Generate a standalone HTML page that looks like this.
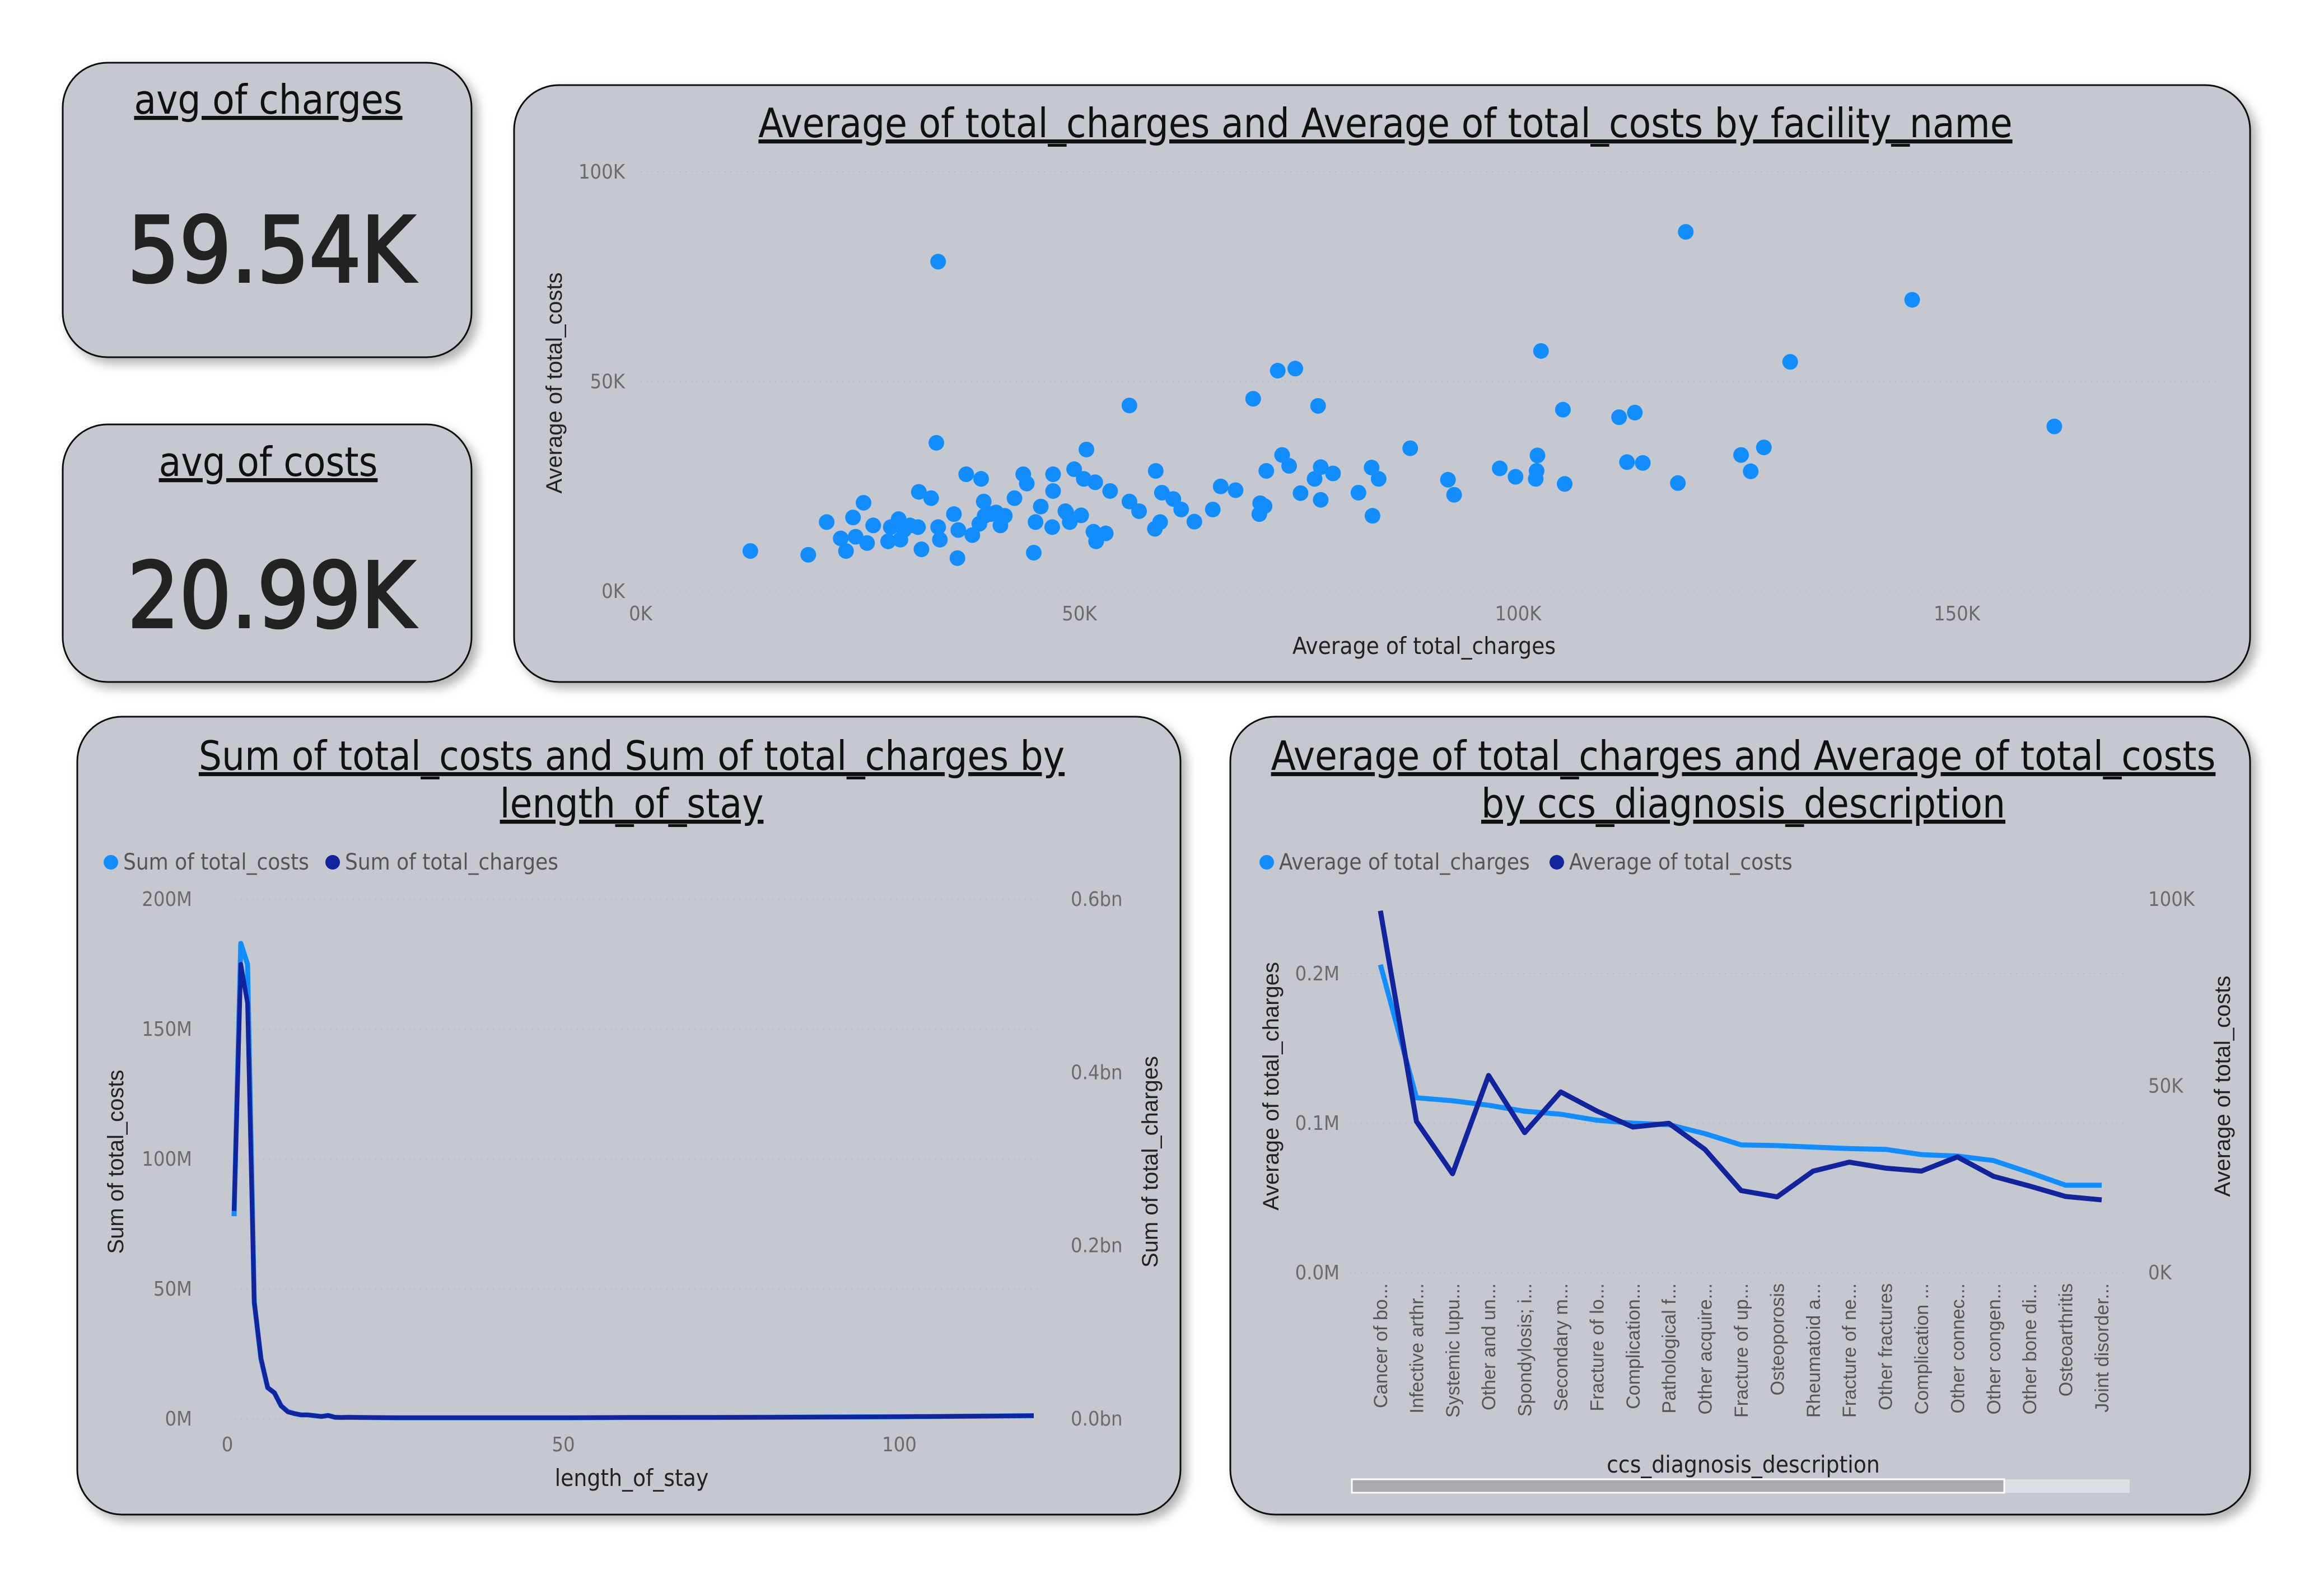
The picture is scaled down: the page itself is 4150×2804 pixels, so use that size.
<!DOCTYPE html>
<html><head><meta charset="utf-8">
<style>
html,body{margin:0;padding:0;background:#fff;}
svg{display:block;}
.t{font-family:"Liberation Sans Narrow","DejaVu Sans Condensed","Liberation Sans",sans-serif;}
.s{font-family:"Liberation Sans","DejaVu Sans",sans-serif;}
</style></head>
<body>
<svg id="dash" width="4150" height="2804" viewBox="0 0 4150 2804" xmlns="http://www.w3.org/2000/svg">
<defs>
<filter id="sh" x="-5%" y="-5%" width="115%" height="120%"><feDropShadow dx="10" dy="10" stdDeviation="9" flood-color="#000" flood-opacity="0.3"/></filter>
</defs>
<!-- cards -->
<rect x="112" y="112" width="730" height="526" rx="80" fill="#c5c9cf" stroke="#111" stroke-width="3" filter="url(#sh)"/>
<rect x="112" y="758" width="730" height="460" rx="80" fill="#c5c9cf" stroke="#111" stroke-width="3" filter="url(#sh)"/>
<rect x="918" y="152" width="3100" height="1066" rx="80" fill="#c5c9cf" stroke="#111" stroke-width="3" filter="url(#sh)"/>
<rect x="138" y="1280" width="1970" height="1425" rx="80" fill="#c5c9cf" stroke="#111" stroke-width="3" filter="url(#sh)"/>
<rect x="2197" y="1280" width="1821" height="1425" rx="80" fill="#c5c9cf" stroke="#111" stroke-width="3" filter="url(#sh)"/>

<!-- KPIs -->
<text class="t" x="479" y="203" font-size="72" text-anchor="middle" text-decoration="underline" fill="#111">avg of charges</text>
<text class="t" x="484" y="503" font-size="162" text-anchor="middle" fill="#222" stroke="#222" stroke-width="4">59.54K</text>
<text class="t" x="479" y="850" font-size="72" text-anchor="middle" text-decoration="underline" fill="#111">avg of costs</text>
<text class="t" x="484" y="1120" font-size="162" text-anchor="middle" fill="#222" stroke="#222" stroke-width="4">20.99K</text>

<!-- titles -->
<text class="t" x="2474" y="245" font-size="72" text-anchor="middle" text-decoration="underline" fill="#111">Average of total_charges and Average of total_costs by facility_name</text>
<text class="t" x="1128" y="1375" font-size="72" text-anchor="middle" text-decoration="underline" fill="#111">Sum of total_costs and Sum of total_charges by</text>
<text class="t" x="1128" y="1460" font-size="72" text-anchor="middle" text-decoration="underline" fill="#111">length_of_stay</text>
<text class="t" x="3113" y="1375" font-size="72" text-anchor="middle" text-decoration="underline" fill="#111">Average of total_charges and Average of total_costs</text>
<text class="t" x="3113" y="1460" font-size="72" text-anchor="middle" text-decoration="underline" fill="#111">by ccs_diagnosis_description</text>

<g id="scatter"></g>
<g id="los"></g>
<g id="diag"></g>
</svg>
<script>
// ---------- Scatter data ----------
const scatterCharges = [12.5,19.1,33.9,33.7,119.1,144.9,161.1,102.6,131,72.6,74.6,69.8,77.2,55.7,105.1,111.5,113.3,87.7,102.2,102.1,102,125.4,128,126.5,112.4,114.2,118.2,105.3,97.9,99.7,92,92.7,83.3,84.1,83.4,81.8,73.1,71.3,73.9,77.5,78.9,76.8,75.2,77.5,70.6,70.5,71.1,67.8,66.1,65.2,63.1,61.6,60.7,59.4,58.7,59.2,58.6,56.8,55.7,53.5,53,51.9,51.6,51.8,50.8,50.5,49.4,50.2,48.9,48.4,47,47,46.9,45.6,45,44.8,44,43.6,42.6,41.5,41,39.9,39.1,38.8,37.8,37.1,36.2,36.1,35.7,34.1,33.9,33.1,31.7,31.6,32,30.7,29.6,29.4,28.5,28.2,26.5,25.8,25.4,24.5,24.2,23.4,22.8,21.2,39.2,40.5,38.6,30,48.5];
const scatterCosts = [9.6,8.7,78.6,35.4,85.7,69.5,39.3,57.3,54.7,52.6,53.1,45.9,44.2,44.3,43.3,41.5,42.6,34.1,32.4,28.7,26.8,32.5,34.3,28.6,30.8,30.6,25.8,25.6,29.3,27.3,26.6,23,29.5,26.8,18,23.5,32.5,28.7,29.9,29.6,28.1,26.8,23.4,21.8,21,18.4,20.3,24.1,25,19.5,16.6,19.5,22,23.5,28.7,16.5,14.9,19.1,21.4,23.9,13.8,11.9,14.2,26,33.8,26.8,29.1,18.1,16.5,19.1,27.9,23.9,15.3,20.2,16.5,9.2,25.7,27.9,22.2,18,15.7,18.4,21.4,26.8,13.4,27.9,14.6,7.9,18.4,12.3,15.3,22.2,23.7,15.3,10,15.7,12.3,17.2,15.3,11.9,15.7,11.5,21.1,13,17.6,9.6,12.6,16.5,18,18.8,16.1,14.6,18.8];
const scatterXTicks = [0,50,100,150];
const scatterYTicks = [0,50,100];

// ---------- LOS data ----------
const losDays = [1,2,3,4,5,6,7,8,9,10,11,12,13,14,15,16,17,18,20,25,30,40,50,60,70,80,90,100,110,120];
const losCosts = [78,183,175,45,23,12,10,5,2.8,2,1.5,1.5,1.2,0.9,1.3,0.6,0.5,0.6,0.5,0.4,0.4,0.4,0.4,0.5,0.5,0.6,0.7,0.8,1.0,1.2];
const losCharges = [0.24,0.525,0.48,0.135,0.07,0.036,0.03,0.015,0.008,0.006,0.0045,0.0045,0.0036,0.0027,0.0039,0.0018,0.0015,0.0018,0.0015,0.0012,0.0012,0.0012,0.0012,0.0015,0.0016,0.0018,0.0021,0.0024,0.003,0.0036];
const losXTicks = [0,50,100];
const losYTicks = [0,50,100,150,200];
const losYTickLabels = ["0M","50M","100M","150M","200M"];
const losY2Ticks = [0,0.2,0.4,0.6];
const losY2TickLabels = ["0.0bn","0.2bn","0.4bn","0.6bn"];

// ---------- Diagnosis data ----------
const diagCategories = ["Cancer of bo...","Infective arthr...","Systemic lupu...","Other and un...","Spondylosis; i...","Secondary m...","Fracture of lo...","Complication...","Pathological f...","Other acquire...","Fracture of up...","Osteoporosis","Rheumatoid a...","Fracture of ne...","Other fractures","Complication ...","Other connec...","Other congen...","Other bone di...","Osteoarthritis","Joint disorder..."];
const diagCharges = [206,117,115,112,108,106,102,100,99,93,85.5,85,84,83,82.5,79,78,75,67,58.5,58.5];
const diagCosts = [96.9,40.5,26.5,52.8,37.5,48.4,43.3,39,40,33,22,20.3,27.2,29.6,28,27.2,31,25.8,23.2,20.4,19.5];
const diagYTicks = [0,0.1,0.2];
const diagYTickLabels = ["0.0M","0.1M","0.2M"];
const diagY2Ticks = [0,50,100];
const diagY2TickLabels = ["0K","50K","100K"];

const NS = "http://www.w3.org/2000/svg";
function mk(parent, tag, attrs, text){
  const e = document.createElementNS(NS, tag);
  for (const k in attrs) e.setAttribute(k, attrs[k]);
  if (text !== undefined) e.textContent = text;
  parent.appendChild(e);
  return e;
}
const TICK = "#6b6b6b";

// ---------- Scatter ----------
(function(){
  const g = document.getElementById('scatter');
  const sx = v => 1144 + v*15.67;
  const sy = v => 1056 - v*7.49;
  scatterYTicks.forEach(t=>{
    const l = mk(g,'line',{x1:1144,x2:3960,y1:sy(t),y2:sy(t),stroke:'#b6bac0','stroke-width':2,'stroke-dasharray':'2 8'});
    
    
    const tx = mk(g,'text',{x:1116,y:sy(t)+12,'font-size':36,'text-anchor':'end',fill:TICK,class:'t'}, t+'K');
    
    
  });
  scatterXTicks.forEach(t=>{
    const tx = mk(g,'text',{x:sx(t),y:1108,'font-size':36,'text-anchor':'middle',fill:TICK,class:'t'}, t+'K');
    
    
  });
  const yt = mk(g,'text',{x:0,y:0,'font-size':40,'text-anchor':'middle',fill:'#222',class:'s',transform:'translate(1003,684) rotate(-90)'},'Average of total_costs');
  
  
  const xt = mk(g,'text',{x:2543,y:1168,'font-size':42,'text-anchor':'middle',fill:'#222',class:'t'},'Average of total_charges');
  
  
  scatterCharges.forEach((c,i)=>{
    const p = mk(g,'circle',{cx:sx(c),cy:sy(scatterCosts[i]),r:14,fill:'#118dff'});
    
    
  });
})();

// ---------- LOS ----------
(function(){
  const g = document.getElementById('los');
  const sx = v => 406 + v*12.0;
  const sy = v => 2534 - v*4.64;
  const sy2 = v => 2534 - v*1546.7;
  losYTicks.forEach((t,i)=>{
    const l = mk(g,'line',{x1:420,x2:1860,y1:sy(t),y2:sy(t),stroke:'#b6bac0','stroke-width':2,'stroke-dasharray':'2 8'});
    
    
    const tx = mk(g,'text',{x:343,y:sy(t)+12,'font-size':36,'text-anchor':'end',fill:TICK,class:'t'}, losYTickLabels[i]);
    
    
  });
  losY2Ticks.forEach((t,i)=>{
    const tx = mk(g,'text',{x:1912,y:sy2(t)+12,'font-size':36,'text-anchor':'start',fill:TICK,class:'t'}, losY2TickLabels[i]);
    
    
  });
  losXTicks.forEach(t=>{
    const tx = mk(g,'text',{x:sx(t),y:2592,'font-size':36,'text-anchor':'middle',fill:TICK,class:'t'}, String(t));
    
    
  });
  const yt = mk(g,'text',{x:0,y:0,'font-size':40,'text-anchor':'middle',fill:'#222',class:'s',transform:'translate(220,2075) rotate(-90)'},'Sum of total_costs');
  
  
  const y2t = mk(g,'text',{x:0,y:0,'font-size':40,'text-anchor':'middle',fill:'#222',class:'s',transform:'translate(2067,2075) rotate(-90)'},'Sum of total_charges');
  
  
  const xt = mk(g,'text',{x:1128,y:2654,'font-size':42,'text-anchor':'middle',fill:'#222',class:'t'},'length_of_stay');
  
  
  const l1 = mk(g,'circle',{cx:198,cy:1540,r:13,fill:'#118dff'});
  
  
  const l1t = mk(g,'text',{x:220,y:1553,'font-size':40,fill:'#555',class:'t'},'Sum of total_costs');
  
  
  const l2 = mk(g,'circle',{cx:594,cy:1540,r:13,fill:'#12239e'});
  
  
  const l2t = mk(g,'text',{x:616,y:1553,'font-size':40,fill:'#555',class:'t'},'Sum of total_charges');
  
  
  const p1 = mk(g,'polyline',{points:losDays.map((d,i)=>sx(d)+','+sy(losCosts[i])).join(' '),fill:'none',stroke:'#118dff','stroke-width':9,'stroke-linejoin':'round'});
  
  
  const p2 = mk(g,'polyline',{points:losDays.map((d,i)=>sx(d)+','+sy2(losCharges[i])).join(' '),fill:'none',stroke:'#12239e','stroke-width':8,'stroke-linejoin':'round'});
  
  
})();

// ---------- Diagnosis ----------
(function(){
  const g = document.getElementById('diag');
  const x0 = 2465, step = 64.4;
  const sx = i => x0 + i*step;
  const sy = v => 2273 - v*2670;
  const sy2 = v => 2273 - v*6.67;
  diagYTicks.forEach((t,i)=>{
    const l = mk(g,'line',{x1:2410,x2:3800,y1:sy(t),y2:sy(t),stroke:'#b6bac0','stroke-width':2,'stroke-dasharray':'2 8'});
    
    
    const tx = mk(g,'text',{x:2392,y:sy(t)+12,'font-size':36,'text-anchor':'end',fill:TICK,class:'t'}, diagYTickLabels[i]);
    
    
  });
  diagY2Ticks.forEach((t,i)=>{
    const tx = mk(g,'text',{x:3836,y:sy2(t)+12,'font-size':36,'text-anchor':'start',fill:TICK,class:'t'}, diagY2TickLabels[i]);
    
    
  });
  diagCategories.forEach((c,i)=>{
    const tx = mk(g,'text',{x:0,y:0,'font-size':34,'text-anchor':'end',fill:'#555',class:'s',transform:'translate('+(sx(i)+12)+',2292) rotate(-90)'}, c);
    
    
  });
  const yt = mk(g,'text',{x:0,y:0,'font-size':40,'text-anchor':'middle',fill:'#222',class:'s',transform:'translate(2283,1940) rotate(-90)'},'Average of total_charges');
  
  
  const y2t = mk(g,'text',{x:0,y:0,'font-size':40,'text-anchor':'middle',fill:'#222',class:'s',transform:'translate(3982,1940) rotate(-90)'},'Average of total_costs');
  
  
  const xt = mk(g,'text',{x:3113,y:2630,'font-size':42,'text-anchor':'middle',fill:'#222',class:'t'},'ccs_diagnosis_description');
  
  
  const sb = mk(g,'rect',{x:2414,y:2642,width:1389,height:24,fill:'#dcdfe3'});
  
  
  const sbt = mk(g,'rect',{x:2414,y:2642,width:1165,height:24,fill:'#a8aaae',stroke:'#fff','stroke-width':3});
  
  
  const l1 = mk(g,'circle',{cx:2262,cy:1540,r:13,fill:'#118dff'});
  
  
  const l1t = mk(g,'text',{x:2284,y:1553,'font-size':40,fill:'#555',class:'t'},'Average of total_charges');
  
  
  const l2 = mk(g,'circle',{cx:2780,cy:1540,r:13,fill:'#12239e'});
  
  
  const l2t = mk(g,'text',{x:2802,y:1553,'font-size':40,fill:'#555',class:'t'},'Average of total_costs');
  
  
  const p1 = mk(g,'polyline',{points:diagCharges.map((v,i)=>sx(i)+','+sy(v/1000)).join(' '),fill:'none',stroke:'#118dff','stroke-width':9,'stroke-linejoin':'round'});
  
  
  const p2 = mk(g,'polyline',{points:diagCosts.map((v,i)=>sx(i)+','+sy2(v)).join(' '),fill:'none',stroke:'#12239e','stroke-width':9,'stroke-linejoin':'round'});
  
  
})();
</script>
</body></html>
